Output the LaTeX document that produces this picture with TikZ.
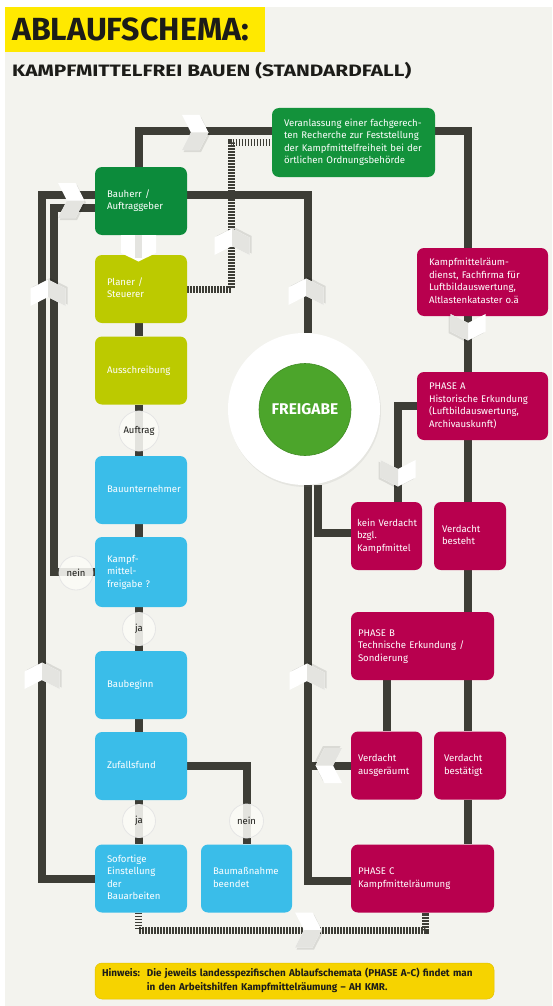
\documentclass[tikz,border=0pt]{standalone}
\usepackage{fontspec}
\setmainfont{Fira Sans}
\usetikzlibrary{calc,shadows}
\definecolor{bgc}{HTML}{F3F3EE}
\definecolor{linec}{HTML}{3D3D36}
\definecolor{dgreen}{HTML}{0C8B3B}
\definecolor{vgreen}{HTML}{13923B}
\definecolor{lime}{HTML}{BCCA00}
\definecolor{cyanb}{HTML}{3ABDE9}
\definecolor{crim}{HTML}{B8004E}
\definecolor{fgreen}{HTML}{4CA52B}
\definecolor{ytitle}{HTML}{FFE900}
\definecolor{yhint}{HTML}{F6D300}
\definecolor{chevg}{HTML}{E4E4E0}
\definecolor{txtd}{HTML}{1C1C18}
\definecolor{circf}{HTML}{FBFBF6}
\newcommand{\mlines}[1]{\begin{tabular}{@{}l@{}}#1\end{tabular}}
\pgfdeclarelayer{back}
\pgfdeclarelayer{lines}
\pgfsetlayers{back,lines,main}
\tikzset{
  bx/.style={rounded corners=7pt, text=white, align=left, minimum height=68pt,
    inner ysep=0pt, font=\fontsize{9.6}{12.5}\selectfont},
  ln/.style={draw=linec, line width=8pt},
  hatch/.style={draw=linec, line width=7pt, dash pattern=on 1.4pt off 1.6pt},
  lab/.style={circle, fill=circf, fill opacity=0.88, text opacity=1, text=txtd,
    draw=black!10, line width=0.8pt, inner sep=0pt, font=\fontsize{9.5}{11}\selectfont},
  chev/.pic={
    \fill[black, opacity=0.10] (-11.5,-15.5) -- (6,-15.5) -- (15,2) -- (6,19.5) -- (-11.5,19.5) -- (-2.5,2) -- cycle;
    \fill[white] (-13,-17.5) -- (4.5,-17.5) -- (13.5,0) -- (4.5,17.5) -- (-13,17.5) -- (-4,0) -- cycle;
    \fill[chevg] (-4,0) -- (13.5,0) -- (4.5,17.5) -- (-13,17.5) -- cycle;
  }
}
\begin{document}
\begin{tikzpicture}[x=1pt,y=-1pt]
\useasboundingbox (0,0) rectangle (552,1006);
\begin{pgfonlayer}{back}
  \fill[white] (0,0) rectangle (552,1006);
  \fill[bgc] (5,7) rectangle (552,1006);
\end{pgfonlayer}

% title
\node[anchor=north west, fill=ytitle, minimum width=260pt, minimum height=45pt,
  text width=246pt, inner xsep=7pt, align=left, text=txtd,
  font=\bfseries\fontsize{32}{32}\selectfont] (title) at (5,7) {\resizebox{237pt}{\height}{ABLAUFSCHEMA:}};
\node[anchor=base west, inner sep=0pt, text=txtd, font=\bfseries\fontsize{16.5}{17}\selectfont]
  (subtitle) at (12,77) {\resizebox{399pt}{\height}{KAMPFMITTELFREI BAUEN (STANDARDFALL)}};

% left column
\node[bx, fill=dgreen, minimum width=92pt, text width=68pt, inner xsep=12pt] (bauherr) at (141,201) {\mlines{Bauherr /\\Auftraggeber}};
\node[bx, fill=lime, minimum width=92pt, text width=68pt, inner xsep=12pt] (planer) at (141,289) {\mlines{Planer /\\Steuerer}};
\node[bx, fill=lime, minimum width=92pt, text width=68pt, inner xsep=12pt] (aus) at (141,370.5) {\mlines{Ausschreibung}};
\node[bx, fill=cyanb, minimum width=92pt, text width=68pt, inner xsep=12pt] (bauu) at (141,490) {\mlines{Bauunternehmer}};
\node[bx, fill=cyanb, minimum width=92pt, text width=68pt, inner xsep=12pt, minimum height=70pt] (kmf) at (141,572) {\mlines{Kampf-\\mittel-\\freigabe ?}};
\node[bx, fill=cyanb, minimum width=92pt, text width=68pt, inner xsep=12pt] (baubeginn) at (141,685) {\mlines{Baubeginn}};
\node[bx, fill=cyanb, minimum width=92pt, text width=68pt, inner xsep=12pt] (zufall) at (141,766) {\mlines{Zufallsfund}};
\node[bx, fill=cyanb, minimum width=92pt, text width=68pt, inner xsep=12pt] (sofort) at (141,878.5) {\mlines{Sofortige\\Einstellung\\der\\Bauarbeiten}};
\node[bx, fill=cyanb, minimum width=91pt, text width=67pt, inner xsep=12pt] (baumass) at (246.5,878.5) {\mlines{Baumaßnahme\\beendet}};

% top and right
\node[bx, fill=vgreen, minimum width=163pt, text width=139pt, inner xsep=12pt, minimum height=69pt] (veran) at (353.5,142.5) {\mlines{Veranlassung einer fachgerech-\\ten Recherche zur Feststellung\\der Kampfmittelfreiheit bei der\\örtlichen Ordnungsbehörde}};
\node[bx, fill=crim, minimum width=131pt, text width=107pt, inner xsep=12pt] (kmrd) at (482.5,282) {\mlines{Kampfmittelräum-\\dienst, Fachfirma für\\Luftbildauswertung,\\Altlastenkataster o.ä}};
\node[bx, fill=crim, minimum width=131pt, text width=107pt, inner xsep=12pt] (phaseA) at (482.5,406) {\mlines{PHASE A\\Historische Erkundung\\(Luftbildauswertung,\\Archivauskunft)}};
\node[bx, fill=crim, minimum width=71pt, text width=59pt, inner xsep=6pt] (kein) at (386.5,536) {\mlines{kein Verdacht\\bzgl.\\Kampfmittel}};
\node[bx, fill=crim, minimum width=72pt, text width=56pt, inner xsep=8pt] (besteht) at (470,536) {\mlines{Verdacht\\besteht\\ }};
\node[bx, fill=crim, minimum width=143pt, text width=129pt, inner xsep=7pt] (phaseB) at (422.5,646) {\mlines{PHASE B\\Technische Erkundung /\\Sondierung}};
\node[bx, fill=crim, minimum width=71pt, text width=57pt, inner xsep=7pt] (ausger) at (386.5,765.5) {\mlines{Verdacht\\ausgeräumt}};
\node[bx, fill=crim, minimum width=72pt, text width=52pt, inner xsep=10pt] (bestaetigt) at (470,765.5) {\mlines{Verdacht\\bestätigt}};
\node[bx, fill=crim, minimum width=143pt, text width=129pt, inner xsep=7pt] (phaseC) at (422.5,878.5) {\mlines{PHASE C\\Kampfmittelräumung}};

% freigabe
\node[circle, fill=white, minimum size=152pt, inner sep=0pt,
  drop shadow={opacity=0.12, shadow xshift=1pt, shadow yshift=-2pt}] (freig) at (304,409) {};
\node[circle, fill=fgreen, draw=fgreen!85!black, line width=0.6pt, minimum size=92pt, inner sep=0pt,
  text=white, font=\bfseries\fontsize{15.5}{18}\selectfont] (freigin) at (305,409.5) {FREIGABE};

% label circles
\node[lab, minimum size=40pt] (auftrag) at (139,431) {Auftrag};
\node[lab, minimum size=34pt] (nein1) at (76,573) {nein};
\node[lab, minimum size=33pt] (ja1) at (139,629) {ja};
\node[lab, minimum size=33pt] (ja2) at (139,821) {ja};
\node[lab, minimum size=34pt] (nein2) at (246.5,821) {nein};

% hint
\node[fill=yhint, draw=yhint!92!black, line width=0.5pt, rounded corners=7pt, minimum width=399pt, minimum height=36pt,
  text width=385pt, inner xsep=7pt, inner ysep=0pt, align=left, text=txtd,
  font=\bfseries\fontsize{9.9}{14}\selectfont] (hinweis) at (294.5,981)
  {\begin{tabular}{@{}l@{\hspace{7pt}}l@{}}Hinweis: & Die jeweils landesspezifischen Ablaufschemata (PHASE A-C) findet man\\
   & in den Arbeitshilfen Kampfmittelräumung – AH KMR.\end{tabular}};

% connectors
\coordinate (dtop) at (231,142.5);
\coordinate (otop) at (42,195);
\coordinate (itop) at (54,208);
\coordinate (j1) at (308,765.5);
\coordinate (hb) at (425,930);
\begin{pgfonlayer}{lines}
  \draw[ln] ([xshift=-2pt]bauherr.north) |- ([yshift=11pt]veran.west);
  \draw[ln] ([yshift=11pt]veran.east) -| ([xshift=-14.5pt]kmrd.north);
  \draw[ln] ([yshift=6pt]bauherr.east) -| ([xshift=4pt]freig.north);
  \draw[hatch] (planer.east) -| (dtop) -- (veran.west);
  \draw[ln] (sofort.west) -| (otop) -- ([yshift=6pt]bauherr.west);
  \draw[ln] (kmf.west) -| (itop) -- ([yshift=-7pt]bauherr.west);
  \draw[ln] ([xshift=-2pt]planer.south) -- ([xshift=-2pt]aus.north);
  \draw[ln] ([xshift=-2pt]aus.south) -- ([xshift=-2pt]bauu.north);
  \draw[ln] ([xshift=-2pt]bauu.south) -- ([xshift=-2pt]kmf.north);
  \draw[ln] ([xshift=-2pt]kmf.south) -- ([xshift=-2pt]baubeginn.north);
  \draw[ln] ([xshift=-2pt]baubeginn.south) -- ([xshift=-2pt]zufall.north);
  \draw[ln] ([xshift=-2pt]zufall.south) -- ([xshift=-2pt]sofort.north);
  \draw[ln] (zufall.east) -| (baumass.north);
  \draw[ln] ([xshift=-14.5pt]kmrd.south) -- ([xshift=-14.5pt]phaseA.north);
  \draw[ln] (phaseA.west) -| ([xshift=11.5pt]kein.north);
  \draw[ln] ([xshift=-14.5pt]phaseA.south) -- ([xshift=-2pt]besteht.north);
  \draw[ln] ([xshift=-2pt]besteht.south) -- ([xshift=45.5pt]phaseB.north);
  \draw[ln] ([xshift=-35.5pt]phaseB.south) -- ([xshift=0.5pt]ausger.north);
  \draw[ln] ([xshift=45.5pt]phaseB.south) -- ([xshift=-2pt]bestaetigt.north);
  \draw[ln] ([xshift=-2pt]bestaetigt.south) -- ([xshift=45.5pt]phaseC.north);
  \draw[ln] (ausger.west) -- (j1);
  \draw[ln] ([xshift=4pt]freig.south) |- ([yshift=-2.5pt]phaseC.west);
  \draw[ln] ([xshift=14pt]freig.south) |- ([yshift=3pt]kein.west);
  \draw[hatch] ([xshift=-2.5pt]sofort.south) |- (hb) -- ([xshift=2.5pt]phaseC.south);
\end{pgfonlayer}

% block arrow bauherr -> planer
\fill[white] (121,235) -- (156,235) -- (156,253) -- (138.5,261.5) -- (121,253) -- cycle;
\fill[chevg] (135,235) rectangle (142,258);

% chevrons
\pic at (195,132.5) {chev};
\pic at (71,200.5) {chev};
\pic[rotate=90] at (48,293) {chev};
\pic[rotate=90] at (42,676) {chev};
\pic[rotate=90] at (232,242) {chev};
\pic[rotate=90] at (306,292) {chev};
\pic[rotate=90] at (307,677) {chev};
\pic[rotate=180] at (329,765.5) {chev};
\pic[rotate=-90] at (468,327) {chev};
\pic[rotate=-90] at (398,473) {chev};
\pic at (308,930) {chev};
\end{tikzpicture}
\end{document}
